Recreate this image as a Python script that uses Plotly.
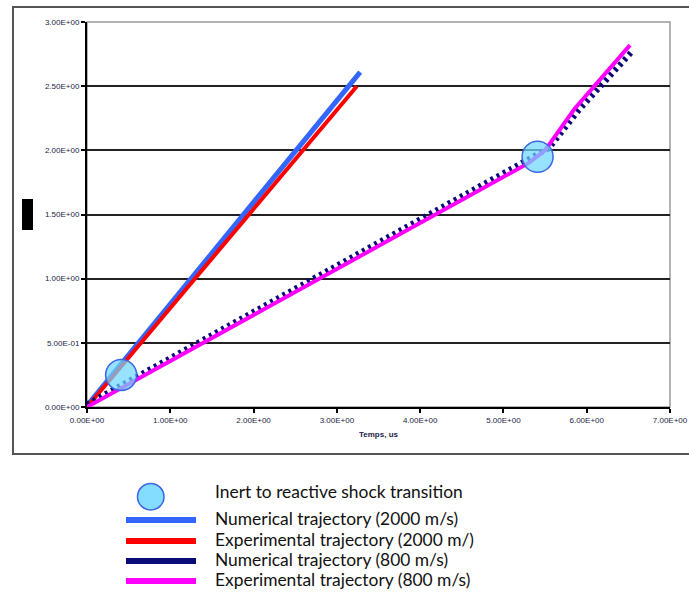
import plotly.graph_objects as go

# ---- data ----
t_num_2000 = [0.0, 3.28]
x_num_2000 = [0.01, 2.61]
t_exp_2000 = [0.0, 3.24]
x_exp_2000 = [0.0, 2.50]
t_num_800 = [0.0, 5.30, 5.55, 5.90, 6.53]
x_num_800 = [0.02, 1.93, 2.02, 2.31, 2.76]
t_exp_800 = [0.0, 5.30, 5.50, 5.85, 6.52]
x_exp_800 = [0.0, 1.90, 2.00, 2.32, 2.82]
t_transition = [0.41, 5.41]
x_transition = [0.25, 1.95]

x_ticks = [0, 1, 2, 3, 4, 5, 6, 7]
x_ticktext = ["0.00E+00", "1.00E+00", "2.00E+00", "3.00E+00", "4.00E+00",
              "5.00E+00", "6.00E+00", "7.00E+00"]
y_ticks = [0, 0.5, 1.0, 1.5, 2.0, 2.5, 3.0]
y_ticktext = ["0.00E+00", "5.00E-01", "1.00E+00", "1.50E+00", "2.00E+00",
              "2.50E+00", "3.00E+00"]

legend_names = ["Inert to reactive shock transition",
                "Numerical trajectory (2000 m/s)",
                "Experimental trajectory (2000 m/)",
                "Numerical trajectory (800 m/s)",
                "Experimental trajectory (800 m/s)"]

C_BLUE = "#3366FF"
C_RED = "#FF0000"
C_NAVY = "#0A0A78"
C_MAG = "#FF00FF"

W, H = 689, 594
# plot area in window pixels (reference)
PX0, PX1, PY0, PY1 = 87, 670, 22, 407
L, T = PX0, PY0
PW, PH = PX1 - PX0, PY1 - PY0
R, B = W - L - PW, H - T - PH


def px_x(px):
    return (px - PX0) / PW


def px_y(py):
    return (PY1 - py) / PH


fig = go.Figure()
fig.add_trace(go.Scatter(x=t_num_2000, y=x_num_2000, mode="lines",
                         line=dict(color=C_BLUE, width=5), name=legend_names[1]))
fig.add_trace(go.Scatter(x=t_exp_2000, y=x_exp_2000, mode="lines",
                         line=dict(color=C_RED, width=4), name=legend_names[2]))
fig.add_trace(go.Scatter(x=t_num_800, y=x_num_800, mode="lines",
                         line=dict(color=C_NAVY, width=6, dash="3px,4px"),
                         name=legend_names[3]))
fig.add_trace(go.Scatter(x=t_exp_800, y=x_exp_800, mode="lines",
                         line=dict(color=C_MAG, width=4), name=legend_names[4]))
fig.add_trace(go.Scatter(x=t_transition, y=x_transition, mode="markers",
                         marker=dict(size=31, color="rgba(110,215,255,0.72)",
                                     line=dict(color="#3A66E8", width=1.5)),
                         name=legend_names[0], cliponaxis=False))

shapes = []
# outer frame
shapes.append(dict(type="rect", xref="paper", yref="paper",
                   x0=px_x(13), x1=px_x(700), y0=px_y(454), y1=px_y(7),
                   line=dict(color="#555555", width=2), layer="below"))
# plot area border (gray top/right)
shapes.append(dict(type="rect", xref="paper", yref="paper",
                   x0=0, x1=1, y0=0, y1=1,
                   line=dict(color="#9A9A9A", width=1.5), layer="below"))
# redacted y-axis label block
shapes.append(dict(type="rect", xref="paper", yref="paper",
                   x0=px_x(22), x1=px_x(33), y0=px_y(230), y1=px_y(199),
                   fillcolor="black", line=dict(width=0)))

annotations = []
# custom legend
leg_line_y = [520, 541, 561, 581]
leg_colors = [C_BLUE, C_RED, C_NAVY, C_MAG]
shapes.append(dict(type="circle", xref="paper", yref="paper",
                   x0=px_x(137.5), x1=px_x(164), y0=px_y(510), y1=px_y(483.5),
                   fillcolor="rgba(110,215,255,0.85)",
                   line=dict(color="#3A66E8", width=1.5)))
for yy, cc in zip(leg_line_y, leg_colors):
    shapes.append(dict(type="line", xref="paper", yref="paper",
                       x0=px_x(126), x1=px_x(196), y0=px_y(yy), y1=px_y(yy),
                       line=dict(color=cc, width=6)))
leg_text_y = [491, 518, 539, 559, 579]
for name, yy in zip(legend_names, leg_text_y):
    annotations.append(dict(xref="paper", yref="paper", x=px_x(213), y=px_y(yy),
                            text=name, showarrow=False, xanchor="left",
                            yanchor="middle",
                            font=dict(family="Lato, Open Sans, sans-serif",
                                      size=17.4, color="#111111")))

tick_font = dict(family="Liberation Sans, Arial, sans-serif", size=8, color="#1B2445")

fig.update_layout(
    template="none",
    width=W, height=H,
    margin=dict(l=L, r=R, t=T, b=B, autoexpand=False),
    paper_bgcolor="white", plot_bgcolor="white",
    showlegend=False,
    shapes=shapes, annotations=annotations,
    xaxis=dict(range=[0, 7], tickvals=x_ticks, ticktext=x_ticktext,
               automargin=False, ticklabeloverflow="allow",
               showgrid=False, zeroline=False, showline=True,
               linecolor="black", linewidth=2, ticks="outside", ticklen=4,
               tickcolor="black", tickwidth=1.5, tickfont=tick_font,
               title=dict(text="<b>Temps, us</b>", standoff=8,
                          font=dict(family="Liberation Sans, Arial, sans-serif",
                                    size=8, color="#1B2445"))),
    yaxis=dict(range=[0, 3], tickvals=y_ticks, ticktext=y_ticktext,
               automargin=False,
               showgrid=True, gridcolor="#222222", gridwidth=1.5,
               zeroline=False, showline=True,
               linecolor="black", linewidth=2, ticks="outside", ticklen=4,
               tickcolor="black", tickwidth=1.5, tickfont=tick_font),
)

# remove the default 8px page margin so the figure fills the window exactly
fig.write_html("out.html",
               config={"displayModeBar": False},
               post_script="document.body.style.margin='0';document.body.style.overflow='hidden';")
